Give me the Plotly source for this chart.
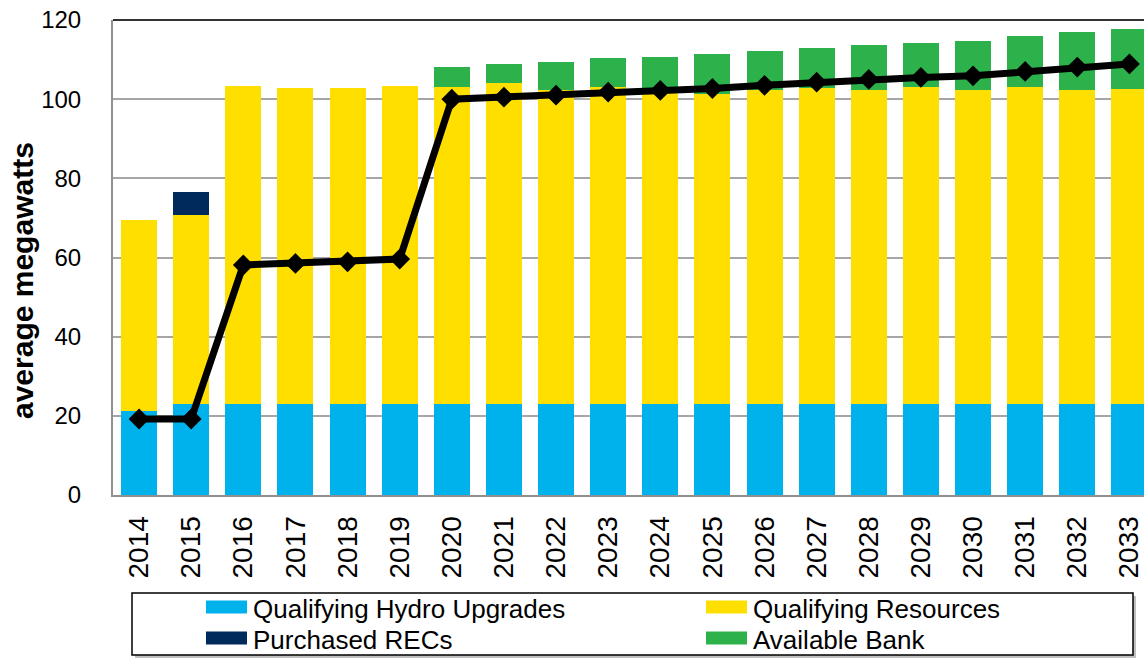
import plotly.graph_objects as go

years = [str(y) for y in range(2014, 2034)]
hydro = [21.3] + [23.0] * 19
qualifying = [48.1, 47.7, 80.3, 79.9, 79.9, 80.3, 80.1, 81.0, 79.3, 80.1,
              78.8, 78.4, 79.3, 79.9, 79.3, 80.1, 79.3, 80.1, 79.4, 79.6]
recs = [0, 5.8] + [0] * 18
bank = [0, 0, 0, 0, 0, 0, 5.1, 5.0, 7.1, 7.2,
        8.9, 10.1, 9.9, 10.1, 11.3, 11.2, 12.4, 12.9, 14.5, 15.1]
requirement = [19.2, 19.2, 58.1, 58.5, 58.9, 59.6, 100.0, 100.5, 101.0, 101.8,
               102.2, 102.7, 103.5, 104.3, 105.0, 105.5, 105.9, 107.0, 108.1, 108.9]
y_ticks = [0, 20, 40, 60, 80, 100, 120]

series_names = ["Qualifying Hydro Upgrades", "Qualifying Resources",
                "Purchased RECs", "Available Bank"]
colors = ["#00B2EC", "#FFDF00", "#00295C", "#2DB24B"]
series_vals = [hydro, qualifying, recs, bank]

FONT = "Arial, Liberation Sans, sans-serif"
W, H = 1144, 658
L, R, T, B = 113, 0, 20, 163
PW = W - L - R
PH = H - T - B


def px2x(px):
    return (px - L) / PW


def px2y(py):
    return (H - B - py) / PH


fig = go.Figure()
for name, vals, col in zip(series_names, series_vals, colors):
    fig.add_trace(go.Bar(x=years, y=vals, name=name, marker=dict(color=col, line=dict(width=0)),
                         showlegend=False))

fig.add_trace(go.Scatter(x=years, y=requirement, mode="lines+markers", name="Requirement",
                         line=dict(color="black", width=7),
                         marker=dict(symbol="diamond", size=16, color="black"),
                         showlegend=False))

shapes = []
annotations = []

# top frame line
shapes.append(dict(type="line", xref="paper", yref="paper", x0=0, x1=1, y0=1, y1=1,
                   line=dict(color="#333333", width=2)))

# legend box (custom)
bx0, bx1, by0, by1 = 132, 1133, 593, 655
shapes.append(dict(type="rect", xref="paper", yref="paper",
                   x0=px2x(bx0 + 3), x1=px2x(bx1 + 3), y0=px2y(by1 + 3), y1=px2y(by0 + 3),
                   line=dict(width=0), fillcolor="rgba(0,0,0,0.25)", layer="above"))
shapes.append(dict(type="rect", xref="paper", yref="paper",
                   x0=px2x(bx0), x1=px2x(bx1), y0=px2y(by1), y1=px2y(by0),
                   line=dict(color="black", width=1.5), fillcolor="white", layer="above"))

sw_x = [206, 706, 206, 706]
sw_y = [607, 607, 638, 638]
for i in range(4):
    sx, sy = sw_x[i], sw_y[i]
    shapes.append(dict(type="rect", xref="paper", yref="paper",
                       x0=px2x(sx), x1=px2x(sx + 41), y0=px2y(sy + 6.5), y1=px2y(sy - 6.5),
                       line=dict(width=0), fillcolor=colors[i], layer="above"))
    annotations.append(dict(text=series_names[i], xref="paper", yref="paper",
                            x=px2x(sx + 45), y=px2y(sy + 2), xanchor="left", yanchor="middle",
                            showarrow=False, font=dict(family=FONT, size=26, color="black")))

annotations.append(dict(text="<b>average megawatts</b>", xref="paper", yref="paper",
                        x=px2x(22), y=px2y(281), xanchor="center", yanchor="middle",
                        textangle=-90, showarrow=False,
                        font=dict(family=FONT, size=30, color="black")))

fig.update_layout(
    width=W, height=H,
    margin=dict(l=L, r=R, t=T, b=B, pad=0),
    barmode="stack", bargap=0.31,
    plot_bgcolor="white", paper_bgcolor="white",
    font=dict(family=FONT, color="black"),
    shapes=shapes, annotations=annotations,
    showlegend=False,
)
fig.update_xaxes(type="category", range=[-0.5, 19.28], tickangle=-90,
                 tickfont=dict(family=FONT, size=28, color="black"),
                 showline=True, linecolor="#909090", linewidth=2,
                 showgrid=False, ticks="", ticklabelstandoff=8)
fig.update_yaxes(range=[0, 120], tickvals=y_ticks, showgrid=True, gridcolor="#A6A6A6", gridwidth=1.5,
                 tickfont=dict(family=FONT, size=24, color="black"),
                 showline=True, linecolor="#909090", linewidth=2, zeroline=False,
                 ticks="", ticklabelstandoff=25)

fig.write_html("out.html",
               config={"displayModeBar": False},
               post_script="document.body.style.margin='0px';"
                           "document.body.style.overflow='hidden';"
                           "document.documentElement.style.overflow='hidden';")
